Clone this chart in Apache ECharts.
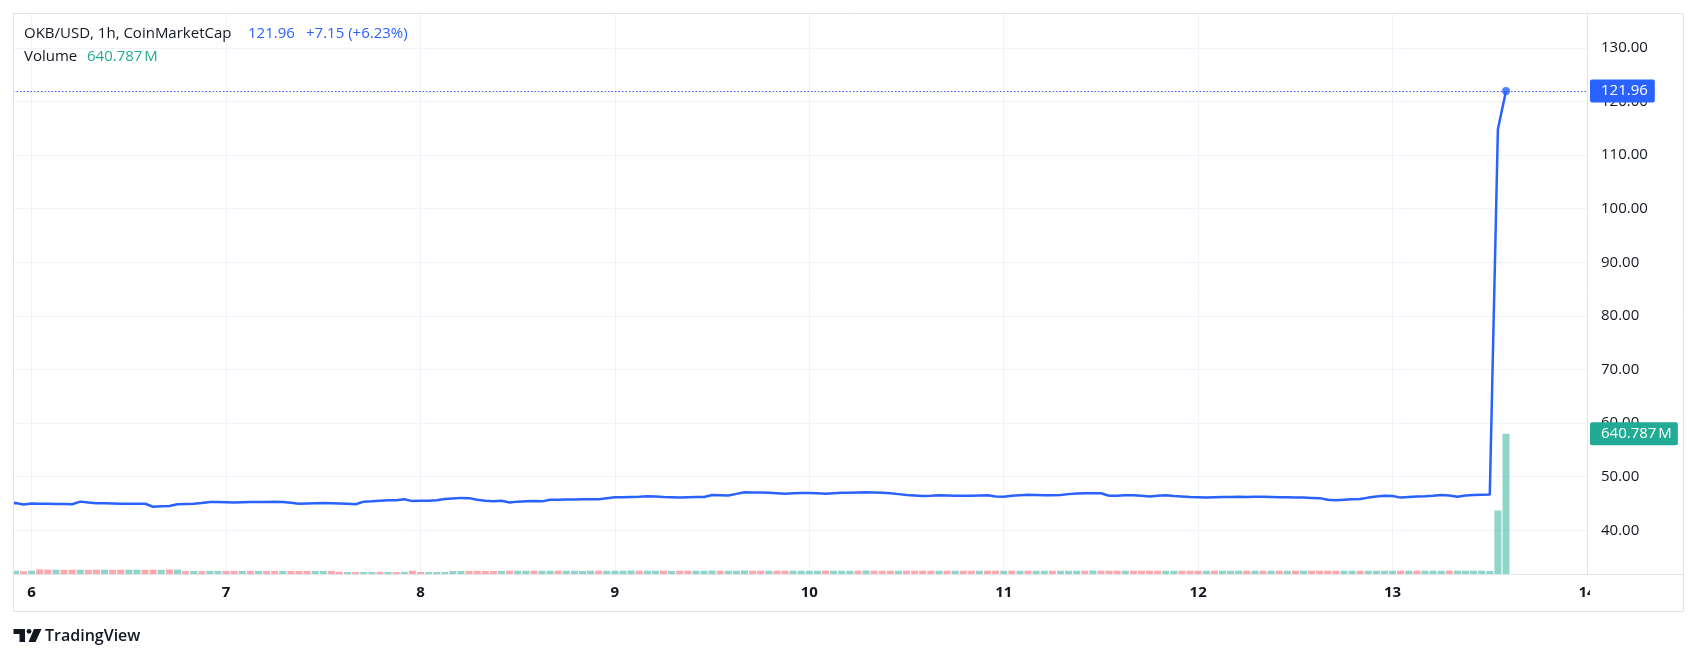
<!DOCTYPE html>
<html>
<head>
<meta charset="utf-8">
<script src="https://cdn.jsdelivr.net/npm/echarts@6/dist/echarts.min.js"></script>
<style>
html,body{margin:0;padding:0;background:#ffffff;}
#chart{width:1697px;height:659px;}
</style>
</head>
<body>
<div id="chart"></div>
<script>
// ---- DATA ----
const symbolTitle = 'OKB/USD, 1h, CoinMarketCap';
const volumeTitle = 'Volume';
// first bar: 5 Aug 21:00 => hours relative to 6 Aug 00:00
const firstHour = -3;
const dayLabels = ['6', '7', '8', '9', '10', '11', '12', '13', '14'];
const priceTicks = [40, 50, 60, 70, 80, 90, 100, 110, 120, 130];

// hourly closes (USD)
const closes = [
  45.0, 45.1, 44.8, 45.0, 44.95, 44.95, 44.9, 44.9, 44.85, 45.35,
  45.2, 45.05, 45.05, 45.0, 44.95, 44.95, 44.97, 44.95, 44.4, 44.5,
  44.55, 44.85, 44.9, 44.95, 45.1, 45.3, 45.3, 45.25, 45.2, 45.25,
  45.3, 45.3, 45.3, 45.35, 45.3, 45.15, 44.95, 45.0, 45.05, 45.1,
  45.05, 45.0, 44.95, 44.85, 45.35, 45.4, 45.5, 45.6, 45.6, 45.8,
  45.45, 45.5, 45.5, 45.6, 45.85, 45.95, 46.05, 46.0, 45.7, 45.5,
  45.4, 45.5, 45.2, 45.35, 45.4, 45.45, 45.4, 45.7, 45.7, 45.75,
  45.75, 45.8, 45.8, 45.8, 46.0, 46.15, 46.15, 46.2, 46.25, 46.35,
  46.3, 46.2, 46.15, 46.1, 46.15, 46.2, 46.2, 46.6, 46.55, 46.5,
  46.8, 47.1, 47.05, 47.05, 47.0, 46.9, 46.8, 46.9, 46.95, 46.97,
  46.9, 46.8, 46.9, 47.0, 47.0, 47.05, 47.1, 47.05, 47.0, 46.9,
  46.75, 46.6, 46.5, 46.4, 46.45, 46.55, 46.5, 46.45, 46.43, 46.45,
  46.5, 46.55, 46.3, 46.25, 46.45, 46.55, 46.65, 46.6, 46.55, 46.55,
  46.6, 46.75, 46.85, 46.9, 46.9, 46.9, 46.45, 46.45, 46.55, 46.55,
  46.45, 46.3, 46.45, 46.55, 46.4, 46.3, 46.2, 46.15, 46.1, 46.15,
  46.2, 46.2, 46.25, 46.2, 46.25, 46.25, 46.2, 46.15, 46.15, 46.1,
  46.1, 46.05, 46.0, 45.7, 45.6, 45.7, 45.8, 45.85, 46.1, 46.3,
  46.45, 46.4, 46.1, 46.2, 46.3, 46.35, 46.45, 46.6, 46.5, 46.25,
  46.5, 46.6, 46.65, 46.66, 114.81, 121.96
];

// hourly volume (millions USD)
const volumes = [
  14, 15, 13, 15, 21, 20, 20, 19, 20, 20,
  19, 20, 20, 19, 20, 20, 20, 19, 20, 19,
  21, 20, 13, 14, 13, 14, 14, 14, 14, 14,
  14, 14, 13, 14, 14, 14, 14, 14, 14, 14,
  14, 10, 9, 9, 9, 9, 10, 9, 9, 10,
  15, 9, 9, 9, 9, 14, 14, 14, 14, 14,
  14, 14, 15, 15, 15, 15, 15, 15, 15, 15,
  15, 14, 15, 15, 15, 15, 15, 16, 15, 15,
  15, 15, 14, 15, 15, 15, 15, 16, 15, 15,
  15, 16, 15, 15, 15, 15, 15, 15, 15, 15,
  15, 15, 15, 15, 15, 15, 16, 15, 15, 15,
  15, 15, 15, 15, 15, 15, 15, 15, 15, 15,
  15, 15, 15, 15, 15, 15, 15, 15, 15, 15,
  15, 15, 15, 15, 16, 15, 15, 15, 15, 15,
  15, 15, 15, 15, 15, 15, 15, 15, 15, 15,
  15, 15, 15, 15, 15, 15, 15, 15, 15, 15,
  15, 15, 15, 15, 15, 15, 15, 15, 15, 15,
  15, 15, 15, 15, 15, 15, 15, 15, 15, 15,
  15, 15, 15, 14, 290, 640.787
];

// candle direction per bar: 1 = up (green), 0 = down (red)
const volUp = [
  1,1,0,1,0,0,1,0,0,1,
  0,0,1,0,0,1,1,0,0,1,
  0,1,0,1,0,1,1,0,0,1,
  0,1,0,0,1,0,0,0,1,1,
  0,0,1,0,1,1,0,1,0,1,
  0,0,1,1,1,1,1,0,0,0,
  0,1,0,1,1,0,1,1,0,1,
  1,1,1,0,1,1,1,1,0,1,
  1,0,1,0,0,1,1,1,0,1,
  1,1,0,0,1,0,0,1,1,1,
  1,0,1,1,1,0,1,0,0,0,
  1,0,0,0,0,1,0,1,0,0,
  1,0,0,1,0,1,0,1,1,0,
  1,1,1,0,1,0,0,0,1,0,
  0,0,0,1,1,0,0,0,1,0,
  1,1,1,0,1,0,1,0,1,0,
  1,0,0,0,0,1,1,0,1,1,
  1,1,0,1,0,1,1,1,0,1,
  1,1,1,1,1,1
];

// ---- BUILD ----
const FONT = '"Open Sans", sans-serif';
const TEXT = '#131722';
const BLUE = '#2962FF';
const GREEN = '#22AB94';
const X_MIN = -2.3, X_MAX = 192;
const hours = closes.map((_, i) => firstHour + i);
const dayTicks = dayLabels.map((_, i) => i * 24);
const lastClose = closes[closes.length - 1];
const prevClose = closes[closes.length - 2];
const change = lastClose - prevClose;
const changePct = change / prevClose * 100;
const lastVol = volumes[volumes.length - 1];
const lastHour = hours[hours.length - 1];

const lineData = hours.map((h, i) => [h, closes[i]]);
// bars whose slot lies entirely outside the visible time range are not drawn
const volData = hours.map((h, i) => ({
  value: [h, volumes[i]],
  itemStyle: {
    color: volUp[i] ? 'rgba(34,171,148,0.5)' : 'rgba(247,82,95,0.5)',
    opacity: (h + 0.5 < X_MIN) ? 0 : 1
  }
}));

const chart = echarts.init(document.getElementById('chart'), null, { renderer: 'canvas' });

const option = {
  animation: false,
  backgroundColor: '#ffffff',
  textStyle: { fontFamily: FONT },
  grid: { left: 13, right: 110, top: 13, bottom: 85 },
  xAxis: {
    type: 'value',
    min: X_MIN,
    max: X_MAX,
    axisLine: { show: false, onZero: false },
    axisTick: { show: false, customValues: dayTicks },
    axisLabel: {
      customValues: dayTicks,
      formatter: (v) => dayLabels[Math.round(v / 24)],
      color: TEXT,
      fontFamily: FONT,
      fontSize: 15,
      fontWeight: 'bold',
      margin: 11
    },
    splitLine: { show: true, lineStyle: { color: '#f0f3fa', width: 1 } }
  },
  yAxis: [
    {
      type: 'value',
      position: 'right',
      min: 31.85,
      max: 136.5,
      axisLine: { show: true, onZero: false, lineStyle: { color: '#e0e3eb' } },
      axisTick: { show: false, customValues: priceTicks },
      axisLabel: {
        customValues: priceTicks,
        formatter: (v) => v.toFixed(2),
        color: TEXT,
        fontFamily: FONT,
        fontSize: 15,
        margin: 14
      },
      splitLine: { show: true, lineStyle: { color: '#f0f3fa', width: 1 } }
    },
    {
      type: 'value',
      min: 0,
      max: 2563,
      show: false,
      axisLine: { onZero: false },
      splitLine: { show: false }
    }
  ],
  series: [
    {
      type: 'bar',
      yAxisIndex: 1,
      data: volData,
      barWidth: 7,
      clip: true,
      silent: true,
      z: 1,
      markLine: {
        silent: true,
        symbol: ['none', 'none'],
        data: [{ yAxis: lastVol }],
        lineStyle: { color: 'rgba(0,0,0,0)', width: 1, type: 'solid' },
        label: {
          show: true,
          position: 'end',
          distance: 3,
          formatter: lastVol.toFixed(3) + '\u202FM',
          color: '#ffffff',
          backgroundColor: GREEN,
          padding: [4, 6, 3, 11],
          lineHeight: 16,
          fontSize: 15,
          fontFamily: FONT,
          borderRadius: 2
        }
      }
    },
    {
      type: 'line',
      data: lineData,
      clip: true,
      showSymbol: false,
      symbol: 'none',
      lineStyle: { color: BLUE, width: 2.5 },
      z: 3,
      markLine: {
        silent: true,
        symbol: ['none', 'none'],
        data: [{ yAxis: lastClose }],
        lineStyle: { color: BLUE, type: [1.5, 2], width: 1 },
        label: {
          show: true,
          position: 'end',
          distance: 3,
          formatter: lastClose.toFixed(2),
          color: '#ffffff',
          backgroundColor: BLUE,
          padding: [4, 7, 3, 11],
          lineHeight: 16,
          fontSize: 15,
          fontFamily: FONT,
          borderRadius: 2
        }
      }
    },
    {
      type: 'scatter',
      data: [[lastHour, lastClose]],
      symbol: 'circle',
      symbolSize: 8,
      itemStyle: { color: BLUE },
      silent: true,
      z: 4
    }
  ],
  graphic: [
    // mask outside the left edge of the pane
    { type: 'rect', silent: true, z: 90, shape: { x: 0, y: 0, width: 13, height: 659 },
      style: { fill: '#ffffff' } },
    { type: 'rect', silent: true, z: 95, shape: { x: 13.5, y: 13.5, width: 1670, height: 598 },
      style: { fill: 'none', stroke: '#e0e3eb', lineWidth: 1 } },
    { type: 'line', silent: true, z: 95, shape: { x1: 13, y1: 574.5, x2: 1683, y2: 574.5 },
      style: { stroke: '#e0e3eb', lineWidth: 1 } },
    { type: 'rect', silent: true, z: 100, shape: { x: 1590, y: 576, width: 93, height: 35 },
      style: { fill: '#ffffff' } },
    { type: 'text', silent: true, z: 60, style: { text: symbolTitle, x: 24, y: 34, fill: TEXT,
      font: '15px ' + FONT, verticalAlign: 'middle' } },
    { type: 'text', silent: true, z: 60, style: { text: lastClose.toFixed(2), x: 248, y: 34, fill: BLUE,
      font: '15px ' + FONT, verticalAlign: 'middle' } },
    { type: 'text', silent: true, z: 60, style: {
      text: (change >= 0 ? '+' : '') + change.toFixed(2) + ' (' + (changePct >= 0 ? '+' : '') + changePct.toFixed(2) + '%)',
      x: 306, y: 34, fill: BLUE, font: '15px ' + FONT, verticalAlign: 'middle' } },
    { type: 'text', silent: true, z: 60, style: { text: volumeTitle, x: 24, y: 57, fill: TEXT,
      font: '15px ' + FONT, verticalAlign: 'middle' } },
    { type: 'text', silent: true, z: 60, style: { text: lastVol.toFixed(3) + '\u202FM', x: 87, y: 57, fill: GREEN,
      font: '15px ' + FONT, verticalAlign: 'middle' } },
    // TradingView logo mark
    { type: 'polygon', silent: true, z: 60,
      shape: { points: [[13.5, 629], [25, 629], [25, 642], [19.5, 642], [19.5, 634], [13.5, 634]] },
      style: { fill: TEXT } },
    { type: 'circle', silent: true, z: 60, shape: { cx: 29, cy: 631.3, r: 2.4 }, style: { fill: TEXT } },
    { type: 'polygon', silent: true, z: 60,
      shape: { points: [[34, 629], [41.5, 629], [35.5, 642], [28.5, 642]] },
      style: { fill: TEXT } },
    { type: 'text', silent: true, z: 60, style: { text: 'TradingView', x: 45, y: 636, fill: TEXT,
      font: '600 16px ' + FONT, verticalAlign: 'middle' } }
  ]
};

chart.setOption(option);
</script>
</body>
</html>
